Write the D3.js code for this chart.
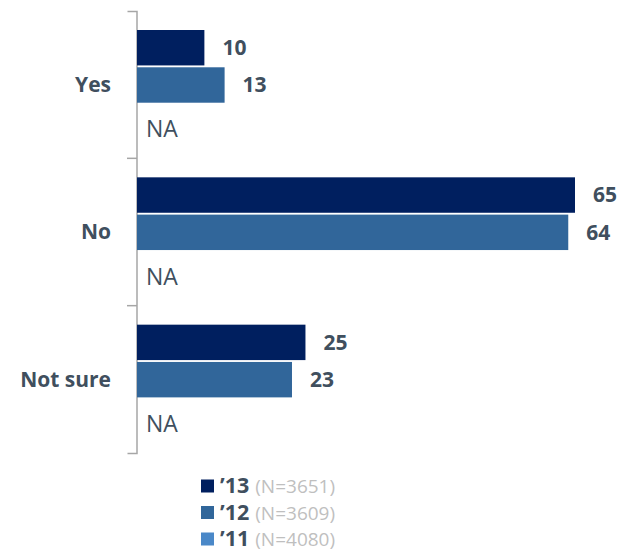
<!DOCTYPE html>
<html><head><meta charset="utf-8">
<script src="https://cdn.jsdelivr.net/npm/d3@7"></script>
<style>body{margin:0;background:#fff;} text{font-family:"Open Sans",sans-serif;}</style>
</head><body><svg id="c" width="623" height="551"></svg>
<script>
const categories = ["Yes", "No", "Not sure"];
const seriesNames = ["’13", "’12", "’11"];
const seriesN = ["(N=3651)", "(N=3609)", "(N=4080)"];
const colors = ["#001f5f", "#31669a", "#4a88c8"];
const v13 = [10, 65, 25];
const v12 = [13, 64, 23];
const v11 = [null, null, null];
const series = [v13, v12, v11];

(function () {
const svg = d3.select("#c");
const mLeft = 137, mTop = 11, mBottom = 453;
const x = d3.scaleLinear().domain([0, 65]).range([mLeft, 575]);
const y = d3.scaleBand().domain(categories).range([mTop, mBottom]);
const inner = d3.scaleBand().domain(d3.range(3)).range([19, 129]).paddingInner(0.05);
const textCol = "#404f5e";

const axis = d3.axisLeft(y).tickValues([]).tickSizeOuter(9);
const ag = svg.append("g").attr("transform", `translate(${mLeft - 0.5},0)`).call(axis);
ag.select(".domain").attr("stroke", "#a6a6a6").attr("stroke-width", 1.5);
categories.slice(1).forEach(c => {
  svg.append("line").attr("x1", mLeft - 10).attr("x2", mLeft).attr("y1", y(c)).attr("y2", y(c))
    .attr("stroke", "#a6a6a6").attr("stroke-width", 1.5);
});

categories.forEach((c, ci) => {
  const g = svg.append("g").attr("transform", `translate(0,${y(c)})`);
  g.append("text").attr("x", 111).attr("y", y.bandwidth() / 2).attr("dy", "0.35em")
    .attr("text-anchor", "end").attr("font-size", 21).attr("font-weight", "bold")
    .attr("fill", textCol).text(c);
  series.forEach((s, si) => {
    const v = s[ci];
    const by = inner(si);
    if (v == null) {
      g.append("text").attr("x", mLeft + 9).attr("y", by + inner.bandwidth() / 2 + 7).attr("dy", "0.35em")
        .attr("font-size", 23).attr("fill", textCol).text("NA");
      return;
    }
    g.append("rect").attr("x", x(0)).attr("y", by).attr("width", x(v) - x(0))
      .attr("height", inner.bandwidth()).attr("fill", colors[si]);
    g.append("text").attr("x", x(v) + 18).attr("y", by + inner.bandwidth() / 2).attr("dy", "0.35em")
      .attr("font-size", 21).attr("font-weight", "bold").attr("fill", textCol).text(v);
  });
});

const leg = svg.append("g");
seriesNames.forEach((n, i) => {
  const ly = 486 + i * 26.5;
  leg.append("rect").attr("x", 201).attr("y", ly - 6.5).attr("width", 13).attr("height", 13).attr("fill", colors[i]);
  const t = leg.append("text").attr("x", 220).attr("y", ly + 7);
  t.append("tspan").attr("font-size", 21.5).attr("font-weight", "bold").attr("fill", textCol).text(n);
  t.append("tspan").attr("font-size", 19).attr("fill", "#bfbfbf").attr("dx", 6).text(seriesN[i]);
});
})();
</script></body></html>
